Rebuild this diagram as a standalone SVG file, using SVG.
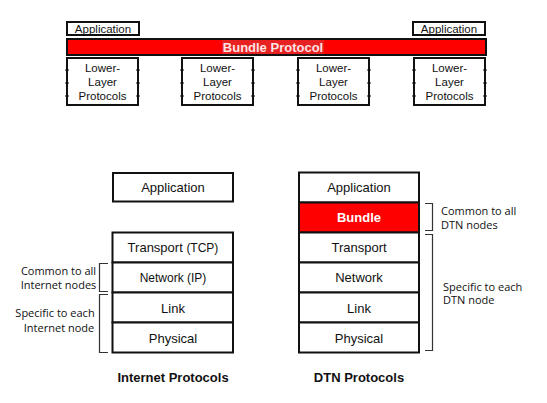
<svg xmlns="http://www.w3.org/2000/svg" width="547" height="403" viewBox="0 0 547 403">
<style>
.box{fill:#fff;stroke:#111;stroke-width:2}
.red{fill:#ff0000;stroke:#111;stroke-width:2}
.t{font-family:"Liberation Sans",Arial,sans-serif;font-size:11.5px;fill:#111;text-anchor:middle}
.tb{font-family:"Liberation Sans",Arial,sans-serif;font-size:13px;fill:#111;text-anchor:middle}
.ts{font-family:"Liberation Sans",Arial,sans-serif;font-size:12px;fill:#111}
.h{font-family:"Liberation Sans",Arial,sans-serif;font-size:13px;font-weight:bold;fill:#111;text-anchor:middle}
.w{font-family:"Liberation Sans",Arial,sans-serif;font-size:13px;font-weight:bold;fill:#fff;text-anchor:middle}
.n{font-family:"Open Sans","Noto Sans",sans-serif;font-size:11px;fill:#111}
.br{fill:none;stroke:#333;stroke-width:1.2}
.tk{stroke:#111;stroke-width:2}
</style>
<defs>
<g id="ticks">
<line class="tk" x1="-1.5" y1="12" x2="1.5" y2="12"/>
<line class="tk" x1="-1.5" y1="25" x2="1.5" y2="25"/>
<line class="tk" x1="-1.5" y1="38" x2="1.5" y2="38"/>
</g>
</defs>

<!-- Top overview -->
<g id="top-app-left">
<rect class="box" x="67" y="22" width="72" height="13" stroke-width="1.8"/>
<text class="t" x="103" y="32.5">Application</text>
</g>
<g id="top-app-right">
<rect class="box" x="413" y="22" width="72" height="13" stroke-width="1.8"/>
<text class="t" x="449" y="32.5">Application</text>
</g>
<g id="bundle-protocol-bar">
<rect class="red" x="67" y="39" width="419" height="16"/>
<rect x="222" y="40" width="102" height="14" fill="#e82222"/>
<text class="w" x="273" y="51.5" style="fill:#ffe4e4">Bundle Protocol</text>
</g>
<g id="llp-1">
<rect class="box" x="67" y="58" width="71" height="47"/>
<use href="#ticks" x="67" y="58"/><use href="#ticks" x="138" y="58"/>
<text class="t" x="102.5" y="72">Lower-</text>
<text class="t" x="102.5" y="86">Layer</text>
<text class="t" x="102.5" y="99.5">Protocols</text>
</g>
<g id="llp-2">
<rect class="box" x="182" y="58" width="71" height="47"/>
<use href="#ticks" x="182" y="58"/><use href="#ticks" x="253" y="58"/>
<text class="t" x="217.5" y="72">Lower-</text>
<text class="t" x="217.5" y="86">Layer</text>
<text class="t" x="217.5" y="99.5">Protocols</text>
</g>
<g id="llp-3">
<rect class="box" x="298" y="58" width="71" height="47"/>
<use href="#ticks" x="298" y="58"/><use href="#ticks" x="369" y="58"/>
<text class="t" x="333.5" y="72">Lower-</text>
<text class="t" x="333.5" y="86">Layer</text>
<text class="t" x="333.5" y="99.5">Protocols</text>
</g>
<g id="llp-4">
<rect class="box" x="414" y="58" width="71" height="47"/>
<use href="#ticks" x="414" y="58"/><use href="#ticks" x="485" y="58"/>
<text class="t" x="449.5" y="72">Lower-</text>
<text class="t" x="449.5" y="86">Layer</text>
<text class="t" x="449.5" y="99.5">Protocols</text>
</g>

<!-- Internet stack -->
<g id="inet-application">
<rect class="box" x="113" y="173" width="120" height="28.5"/>
<text class="tb" x="173" y="191.5">Application</text>
</g>
<g id="inet-transport">
<rect class="box" x="112.5" y="232.5" width="120.5" height="30"/>
<text class="tb" x="173" y="252">Transport <tspan font-size="12px">(TCP)</tspan></text>
</g>
<g id="inet-network">
<rect class="box" x="112.5" y="262.5" width="120.5" height="30"/>
<text class="ts" x="173" y="282" text-anchor="middle">Network (IP)</text>
</g>
<g id="inet-link">
<rect class="box" x="112.5" y="292.5" width="120.5" height="30"/>
<text class="tb" x="173" y="312.5">Link</text>
</g>
<g id="inet-physical">
<rect class="box" x="112.5" y="322.5" width="120.5" height="30"/>
<text class="tb" x="173" y="342.5">Physical</text>
</g>
<text class="h" x="173" y="382">Internet Protocols</text>

<!-- DTN stack -->
<g id="dtn-application">
<rect class="box" x="299" y="172.5" width="120" height="30"/>
<text class="tb" x="359" y="192">Application</text>
</g>
<g id="dtn-bundle">
<rect class="red" x="299" y="202.5" width="120" height="30"/>
<text class="w" x="359" y="222">Bundle</text>
</g>
<g id="dtn-transport">
<rect class="box" x="299" y="232.5" width="120" height="30"/>
<text class="tb" x="359" y="252">Transport</text>
</g>
<g id="dtn-network">
<rect class="box" x="299" y="262.5" width="120" height="30"/>
<text class="tb" x="359" y="282">Network</text>
</g>
<g id="dtn-link">
<rect class="box" x="299" y="292.5" width="120" height="30"/>
<text class="tb" x="359" y="312.5">Link</text>
</g>
<g id="dtn-physical">
<rect class="box" x="299" y="322.5" width="120" height="30"/>
<text class="tb" x="359" y="342.5">Physical</text>
</g>
<text class="h" x="359" y="382">DTN Protocols</text>

<!-- Brackets -->
<g id="brackets">
<path class="br" d="M108 263.5 H99.5 V291.5 H108"/>
<path class="br" d="M108 294.5 H99.5 V352.5 H108"/>
<path class="br" d="M425 203.5 H432.5 V230.5 H425"/>
<path class="br" d="M425 234.5 H432.5 V350.5 H425"/>
</g>
<g id="bracket-labels">
<text class="n" x="58.5" y="275" text-anchor="middle">Common to all</text>
<text class="n" x="58.5" y="288.5" text-anchor="middle">Internet nodes</text>
<text class="n" x="55" y="317" text-anchor="middle">Specific to each</text>
<text class="n" x="59" y="331.5" text-anchor="middle">Internet node</text>
<text class="n" x="441" y="214.5">Common to all</text>
<text class="n" x="441" y="228.5">DTN nodes</text>
<text class="n" x="443" y="290.5">Specific to each</text>
<text class="n" x="443" y="304">DTN node</text>
</g>
</svg>
